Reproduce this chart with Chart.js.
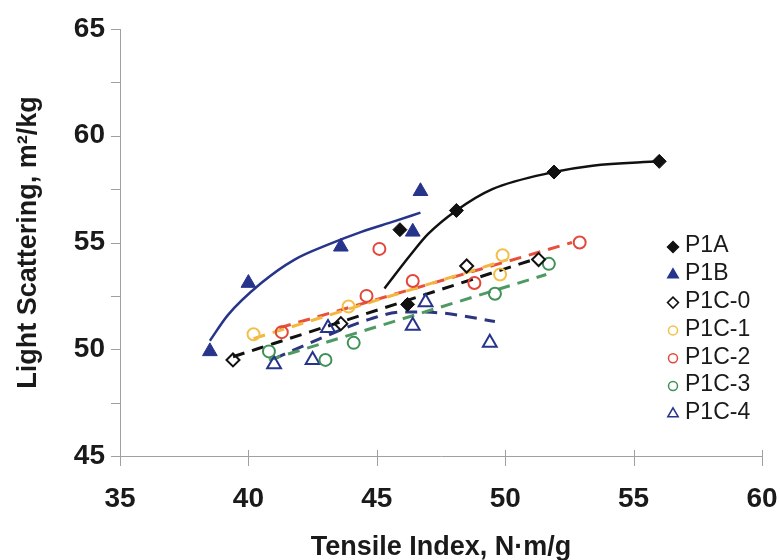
<!DOCTYPE html>
<html>
<head>
<meta charset="utf-8">
<title>Light Scattering vs Tensile Index</title>
<script src="https://cdn.jsdelivr.net/npm/chart.js@4.4.1/dist/chart.umd.min.js"></script>
<style>
  body { margin: 0; background: #fff; }
  #wrap { width: 780px; height: 560px; }
</style>
</head>
<body>
<div id="wrap"><canvas id="scatterChart"></canvas></div>
<script>
// --- Axis ticks ---
const xTicks = [35, 40, 45, 50, 55, 60];
const yTicks = [45, 50, 55, 60, 65];
const yMinorTicks = [47.5, 52.5, 57.5, 62.5];

// --- Measured points ---
const p1aX = [45.9, 46.2, 48.1, 51.9, 56.0];
const p1aY = [55.6, 52.1, 56.5, 58.3, 58.8];
const p1bX = [38.5, 40.0, 43.6, 46.4, 46.7];
const p1bY = [49.9, 53.1, 54.8, 55.5, 57.4];
const p1c0X = [39.4, 43.6, 48.5, 51.3];
const p1c0Y = [49.5, 51.2, 53.9, 54.2];
const p1c1X = [40.2, 43.9, 49.8, 49.9];
const p1c1Y = [50.7, 52.0, 53.5, 54.4];
const p1c2X = [41.3, 44.6, 45.1, 46.4, 48.8, 52.9];
const p1c2Y = [50.8, 52.5, 54.7, 53.2, 53.1, 55.0];
const p1c3X = [40.8, 43.0, 44.1, 49.6, 51.7];
const p1c3Y = [49.9, 49.5, 50.3, 52.6, 54.0];
const p1c4X = [41.0, 42.5, 43.1, 46.4, 46.9, 49.4];
const p1c4Y = [49.3, 49.5, 51.0, 51.1, 52.2, 50.3];

// --- Trend lines ---
const fitAX = [45.3, 46.3, 47.0, 48.1, 49.5, 51.9, 53.4, 56.0];
const fitAY = [52.85, 54.4, 55.4, 56.5, 57.5, 58.3, 58.6, 58.8];
const fitBX = [38.5, 39.2, 40.5, 41.8, 43.1, 44.4, 45.7, 46.7];
const fitBY = [50.4, 51.6, 53.1, 54.2, 54.9, 55.5, 56.0, 56.4];
const fitC0X = [39.4, 51.1];
const fitC0Y = [49.65, 54.2];
const fitC1X = [40.2, 50.1];
const fitC1Y = [50.5, 54.2];
const fitC2X = [41.2, 52.6];
const fitC2Y = [51.0, 55.0];
const fitC3X = [40.8, 51.6];
const fitC3Y = [49.5, 53.5];
const fitC4X = [41.0, 42.7, 44.7, 46.0, 47.5, 49.6];
const fitC4Y = [49.55, 50.45, 51.4, 51.75, 51.7, 51.3];

const NAVY = '#27348b';
const BLACK = '#111111';
const YELLOW = '#f2c04a';
const RED = '#e2473a';
const GREEN = '#3f9158';
const FONT = "'Liberation Sans', Arial, sans-serif";

function pts(xs, ys) {
    return xs.map((x, i) => ({ x: x, y: ys[i] }));
}

function series(label, xs, ys, style, radius, color, filled) {
    return {
        label: label,
        data: pts(xs, ys),
        pointStyle: style,
        pointRadius: radius,
        pointHoverRadius: radius,
        pointBorderWidth: filled ? 1 : 2,
        pointBorderColor: color,
        pointBackgroundColor: filled ? color : 'rgba(0,0,0,0)',
        showLine: false,
        order: 1
    };
}

function trend(xs, ys, color, dashed, width) {
    return {
        fit: true,
        data: pts(xs, ys),
        showLine: true,
        pointRadius: 0,
        borderColor: color,
        borderWidth: width,
        borderDash: dashed ? [12, 8] : [],
        cubicInterpolationMode: 'monotone',
        order: 2
    };
}

// small axis tick marks (majors cross the x axis, minors on y)
const axisTicks = {
    id: 'axisTicks',
    afterDraw(chart) {
        const ctx = chart.ctx;
        const x = chart.scales.x, y = chart.scales.y;
        ctx.save();
        ctx.strokeStyle = '#a0a0a0';
        ctx.lineWidth = 1;
        ctx.beginPath();
        xTicks.forEach(v => {
            const px = Math.round(x.getPixelForValue(v)) + 0.5;
            ctx.moveTo(px, x.top - 6);
            ctx.lineTo(px, x.top + 10);
        });
        yTicks.concat(yMinorTicks).forEach(v => {
            const py = Math.round(y.getPixelForValue(v)) + 0.5;
            ctx.moveTo(y.right - 9, py);
            ctx.lineTo(y.right, py);
        });
        ctx.stroke();
        ctx.restore();
    }
};

function drawMarker(ctx, style, cx, cy, r, fill, stroke) {
    ctx.beginPath();
    if (style === 'rectRot') {
        ctx.moveTo(cx - r, cy); ctx.lineTo(cx, cy - r);
        ctx.lineTo(cx + r, cy); ctx.lineTo(cx, cy + r);
        ctx.closePath();
    } else if (style === 'triangle') {
        ctx.moveTo(cx, cy - r);
        ctx.lineTo(cx + r * 0.866, cy + r * 0.5);
        ctx.lineTo(cx - r * 0.866, cy + r * 0.5);
        ctx.closePath();
    } else {
        ctx.arc(cx, cy, r, 0, Math.PI * 2);
    }
    ctx.fillStyle = fill;
    ctx.fill();
    ctx.lineWidth = 1.5;
    ctx.strokeStyle = stroke;
    ctx.stroke();
}

// legend inside the plot, right side
const sideLegend = {
    id: 'sideLegend',
    afterDraw(chart) {
        const ctx = chart.ctx;
        const items = chart.data.datasets.filter(d => !d.fit);
        ctx.save();
        ctx.font = '23px ' + FONT;
        ctx.textBaseline = 'middle';
        ctx.textAlign = 'left';
        items.forEach((d, i) => {
            const cy = 246 + i * 27.8;
            const r = d.pointStyle === 'triangle' ? 6 : (d.pointStyle === 'rectRot' ? 5.5 : 4.5);
            drawMarker(ctx, d.pointStyle, 673, cy + 1, r, d.pointBackgroundColor, d.pointBorderColor);
            ctx.fillStyle = '#1a1a1a';
            ctx.fillText(d.label, 685, cy);
        });
        ctx.restore();
    }
};

const ctx = document.getElementById('scatterChart').getContext('2d');
new Chart(ctx, {
    type: 'scatter',
    data: {
        datasets: [
            series('P1A', p1aX, p1aY, 'rectRot', 7, BLACK, true),
            series('P1B', p1bX, p1bY, 'triangle', 8.5, NAVY, true),
            series('P1C-0', p1c0X, p1c0Y, 'rectRot', 6.5, BLACK, false),
            series('P1C-1', p1c1X, p1c1Y, 'circle', 6, YELLOW, false),
            series('P1C-2', p1c2X, p1c2Y, 'circle', 6, RED, false),
            series('P1C-3', p1c3X, p1c3Y, 'circle', 6, GREEN, false),
            series('P1C-4', p1c4X, p1c4Y, 'triangle', 8, NAVY, false),
            trend(fitAX, fitAY, BLACK, false, 2.5),
            trend(fitBX, fitBY, NAVY, false, 2.5),
            trend(fitC0X, fitC0Y, BLACK, true, 3),
            trend(fitC1X, fitC1Y, '#f3b63e', true, 3),
            trend(fitC2X, fitC2Y, '#e8503a', true, 3),
            trend(fitC3X, fitC3Y, '#4f9a62', true, 3),
            trend(fitC4X, fitC4Y, '#2b3580', true, 3)
        ]
    },
    options: {
        responsive: true,
        maintainAspectRatio: false,
        animation: false,
        devicePixelRatio: 1,
        layout: { padding: { top: 29, right: 18, bottom: 0, left: 0 } },
        plugins: {
            legend: { display: false },
            tooltip: { enabled: false }
        },
        scales: {
            x: {
                type: 'linear',
                min: xTicks[0],
                max: xTicks[xTicks.length - 1],
                grid: { display: false },
                border: { color: '#a0a0a0', width: 1 },
                ticks: {
                    stepSize: xTicks[1] - xTicks[0],
                    padding: 18,
                    color: '#1a1a1a',
                    font: { family: FONT, size: 28, weight: 'bold' }
                },
                title: {
                    display: true,
                    text: 'Tensile Index, N·m/g',
                    color: '#1a1a1a',
                    font: { family: FONT, size: 27, weight: 'bold' },
                    padding: { top: 0, bottom: -4 }
                },
                afterFit: s => {
                    s.height = 104;
                    s.paddingLeft = 0;
                    s.paddingRight = 0;
                }
            },
            y: {
                type: 'linear',
                min: yTicks[0],
                max: yTicks[yTicks.length - 1],
                grid: { display: false },
                border: { color: '#a0a0a0', width: 1 },
                ticks: {
                    stepSize: yTicks[1] - yTicks[0],
                    padding: 7,
                    color: '#1a1a1a',
                    font: { family: FONT, size: 28, weight: 'bold' }
                },
                title: {
                    display: true,
                    text: 'Light Scattering, m²/kg',
                    color: '#1a1a1a',
                    font: { family: FONT, size: 27, weight: 'bold' },
                    padding: { top: 12, bottom: 0 }
                },
                afterFit: s => {
                    s.width = 120;
                    s.paddingTop = 0;
                    s.paddingBottom = 0;
                }
            }
        }
    },
    plugins: [axisTicks, sideLegend]
});
</script>
</body>
</html>
